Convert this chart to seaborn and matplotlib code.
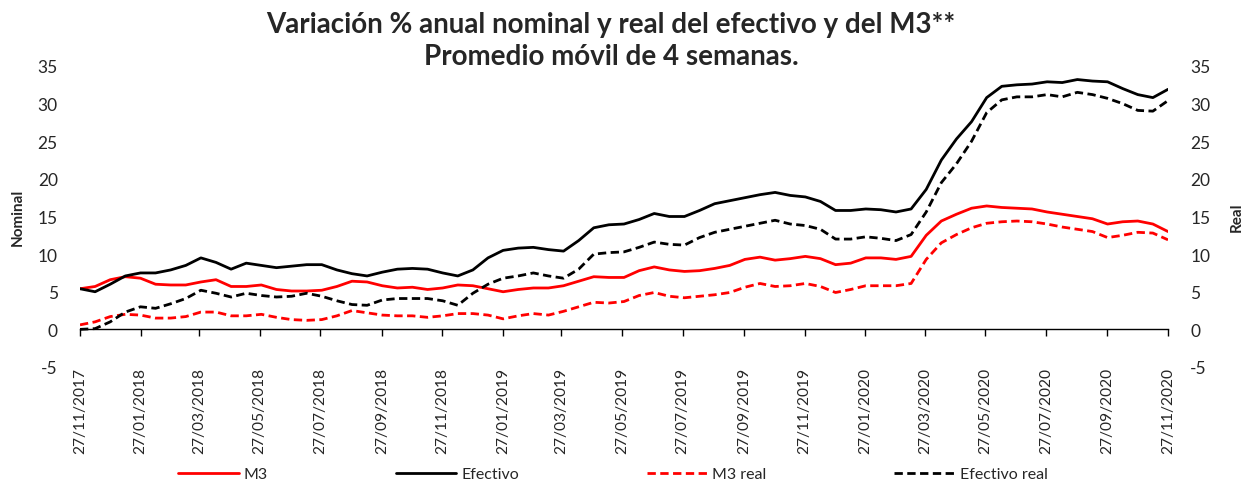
import matplotlib
matplotlib.use("Agg")
import matplotlib.pyplot as plt
import seaborn as sns
import pandas as pd
import numpy as np

# ---------------- data (semi-monthly readings, 27/11/2017 -> 27/11/2020) ----------------
start_date = "2017-11-27"
end_date = "2020-11-27"

efectivo = [5.4, 5.0, 6.0, 7.1, 7.5, 7.5, 7.9, 8.5, 9.5, 8.9,
            8.0, 8.8, 8.5, 8.2, 8.4, 8.6, 8.6, 7.9, 7.4, 7.1,
            7.6, 8.0, 8.1, 8.0, 7.5, 7.1, 7.9, 9.5, 10.5, 10.8,
            10.9, 10.6, 10.4, 11.8, 13.5, 13.9, 14.0, 14.6, 15.4, 15.0,
            15.0, 15.8, 16.7, 17.1, 17.5, 17.9, 18.2, 17.8, 17.6, 17.0,
            15.8, 15.8, 16.0, 15.9, 15.6, 16.0, 18.6, 22.5, 25.3, 27.6,
            30.8, 32.3, 32.5, 32.6, 32.9, 32.8, 33.2, 33.0, 32.9, 32.0,
            31.2, 30.8, 31.9]

efectivo_real = [0.0, 0.1, 1.0, 2.3, 3.0, 2.8, 3.4, 4.1, 5.2, 4.8,
                 4.3, 4.8, 4.5, 4.3, 4.4, 4.8, 4.4, 3.8, 3.3, 3.2,
                 3.9, 4.1, 4.1, 4.1, 3.8, 3.2, 4.8, 6.0, 6.8, 7.1,
                 7.5, 7.1, 6.8, 8.0, 10.0, 10.2, 10.3, 10.9, 11.6, 11.3,
                 11.2, 12.2, 12.9, 13.3, 13.7, 14.1, 14.5, 14.0, 13.8, 13.3,
                 12.0, 12.0, 12.3, 12.1, 11.8, 12.6, 15.6, 19.5, 22.0, 25.0,
                 28.8, 30.5, 30.9, 30.9, 31.2, 30.9, 31.5, 31.2, 30.7, 30.0,
                 29.1, 29.0, 30.4]

m3 = [5.4, 5.7, 6.6, 7.0, 6.8, 6.0, 5.9, 5.9, 6.3, 6.6,
      5.7, 5.7, 5.9, 5.3, 5.1, 5.1, 5.2, 5.7, 6.4, 6.3,
      5.8, 5.5, 5.6, 5.3, 5.5, 5.9, 5.8, 5.4, 5.0, 5.3,
      5.5, 5.5, 5.8, 6.4, 7.0, 6.9, 6.9, 7.8, 8.3, 7.9,
      7.7, 7.8, 8.1, 8.5, 9.3, 9.6, 9.2, 9.4, 9.7, 9.4,
      8.6, 8.8, 9.5, 9.5, 9.3, 9.7, 12.5, 14.4, 15.3, 16.1,
      16.4, 16.2, 16.1, 16.0, 15.6, 15.3, 15.0, 14.7, 14.0, 14.3,
      14.4, 14.0, 13.0]

m3_real = [0.6, 1.0, 1.7, 2.0, 1.9, 1.5, 1.5, 1.7, 2.3, 2.3,
           1.8, 1.8, 2.0, 1.6, 1.3, 1.2, 1.3, 1.8, 2.5, 2.2,
           1.9, 1.8, 1.8, 1.6, 1.8, 2.1, 2.1, 1.9, 1.4, 1.8,
           2.1, 1.9, 2.4, 3.0, 3.6, 3.5, 3.7, 4.5, 4.9, 4.4,
           4.2, 4.4, 4.6, 4.9, 5.6, 6.1, 5.7, 5.8, 6.1, 5.7,
           4.9, 5.3, 5.8, 5.8, 5.8, 6.1, 9.3, 11.5, 12.6, 13.5,
           14.1, 14.3, 14.4, 14.3, 14.0, 13.6, 13.3, 13.0, 12.2, 12.5,
           12.9, 12.8, 11.9]

tick_labels = ["27/11/2017", "27/01/2018", "27/03/2018", "27/05/2018", "27/07/2018",
               "27/09/2018", "27/11/2018", "27/01/2019", "27/03/2019", "27/05/2019",
               "27/07/2019", "27/09/2019", "27/11/2019", "27/01/2020", "27/03/2020",
               "27/05/2020", "27/07/2020", "27/09/2020", "27/11/2020"]
y_ticks = [-5, 0, 5, 10, 15, 20, 25, 30, 35]

title = "Variación % anual nominal y real del efectivo y del M3**\nPromedio móvil de 4 semanas."
series_names = ["M3", "Efectivo", "M3 real", "Efectivo real"]

# ---------------- build ----------------
dates = pd.date_range(start_date, end_date, periods=len(m3))
df = pd.DataFrame({"fecha": dates, "M3": m3, "Efectivo": efectivo,
                   "M3 real": m3_real, "Efectivo real": efectivo_real})

sns.set_theme(style="white")
FONT = ["Lato", "DejaVu Sans"]
plt.rcParams["font.family"] = FONT
plt.rcParams["axes.unicode_minus"] = False

fig = plt.figure(figsize=(12.48, 4.85), dpi=100)
ax = fig.add_axes([80 / 1248, 1 - 368 / 485, 1088 / 1248, 301 / 485])
ax2 = ax.twinx()

lw = 2.0
dash = (3.0, 1.6)
sns.lineplot(data=df, x="fecha", y="M3", ax=ax, color="#FF0000", linewidth=lw, label="M3", legend=False)
sns.lineplot(data=df, x="fecha", y="Efectivo", ax=ax, color="#000000", linewidth=lw, label="Efectivo", legend=False)
sns.lineplot(data=df, x="fecha", y="M3 real", ax=ax2, color="#FF0000", linewidth=lw, label="M3 real", legend=False)
sns.lineplot(data=df, x="fecha", y="Efectivo real", ax=ax2, color="#000000", linewidth=lw, label="Efectivo real", legend=False)
for ln in ax2.get_lines():
    ln.set_dashes(dash)

xmin = pd.Timestamp(start_date)
xmax = pd.Timestamp(end_date)
for a in (ax, ax2):
    a.set_ylim(-5, 35)
    a.set_yticks(y_ticks)
    a.set_yticklabels([str(v) for v in y_ticks])
    a.set_xlim(xmin, xmax)
    for s in ["top", "left", "right", "bottom"]:
        a.spines[s].set_visible(False)
    a.grid(False)

tick_dates = pd.to_datetime(tick_labels, format="%d/%m/%Y")
ax.set_xticks(tick_dates)
ax.set_xticklabels(tick_labels)
ax.spines["bottom"].set_visible(True)
ax.spines["bottom"].set_position(("data", 0))
ax.spines["bottom"].set_color("#000000")
ax.spines["bottom"].set_linewidth(1.0)
ax.tick_params(axis="x", which="major", direction="out", length=5, width=1.0,
               color="#000000", pad=22, bottom=True, labelrotation=90, labelsize=11.2)
for lab in ax.get_xticklabels():
    lab.set_verticalalignment("top")
    lab.set_horizontalalignment("center")
ax.tick_params(axis="y", length=0, labelsize=12.5, pad=16)
ax2.tick_params(axis="y", length=0, labelsize=12.5, pad=16)
ax2.tick_params(axis="x", bottom=False, labelbottom=False)

ax.set_xlabel("")
ax.set_ylabel("Nominal", fontsize=11, fontweight="bold", labelpad=9)
ax2.set_ylabel("Real", fontsize=11, fontweight="bold", labelpad=14)

fig.text(611 / 1248, 1 - 41 / 485, title, ha="center", va="center",
         fontsize=20, fontweight="bold", linespacing=1.3)

handles = ax.get_lines() + ax2.get_lines()
fig.legend(handles, series_names, loc="center", bbox_to_anchor=(613 / 1248, 1 - 475 / 485),
           ncol=4, frameon=False, fontsize=11.5, handlelength=3.8, handletextpad=0.3,
           columnspacing=8.0)

fig.savefig("out.png", dpi=100)
